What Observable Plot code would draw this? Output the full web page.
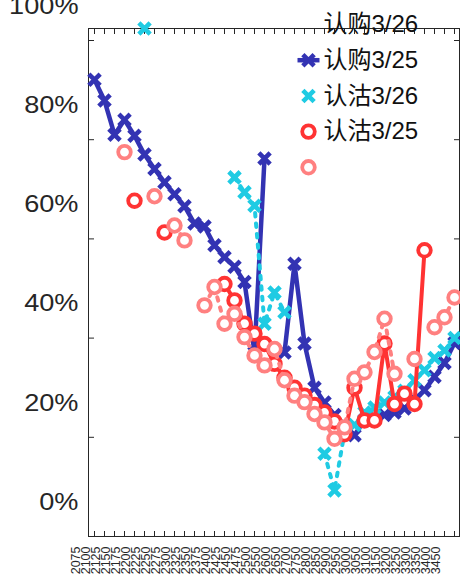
<!DOCTYPE html>
<html><head><meta charset="utf-8">
<script src="https://cdn.jsdelivr.net/npm/d3@7"></script>
<script src="https://cdn.jsdelivr.net/npm/@observablehq/plot@0.6"></script>
<style>html,body{margin:0;padding:0;background:#fff;} #chart svg{display:block;}</style>
</head><body><div id="chart"></div>
<script>
// Strike prices (x categories)
const strikes = ["2075","2100","2125","2150","2175","2200","2225","2250","2275","2300","2325","2350","2375","2400","2425","2450","2475","2500",
  "2550","2600","2650","2700","2750","2800","2850","2900","2950","3000","3050","3100","3150","3200","3250","3300","3350","3400","3450"];
// 认购3/25 (blue)
const call325 = [0.921,0.879,0.810,0.840,0.808,0.770,0.741,0.714,0.690,0.666,0.631,0.625,0.587,0.563,0.544,0.513,0.371,0.762,null,0.371,
  0.550,0.389,0.300,0.270,0.245,0.225,0.204,0.235,0.240,0.245,0.250,0.258,0.275,0.295,0.322,0.350,0.390];
// 认沽3/26 (cyan)
const put326 = [null,null,null,null,null,1.024,null,null,null,null,null,null,null,null,0.724,0.694,0.667,0.429,0.492,0.452,
  null,null,null,0.167,0.093,0.210,0.225,0.250,0.260,0.270,0.281,0.294,0.315,0.335,0.360,0.375,0.400];
// 认沽3/25 (red)
const put325 = [null,null,null,null,0.677,null,null,0.613,null,null,null,null,null,0.509,0.476,0.429,0.409,0.388,0.348,0.320,
  0.300,0.284,0.265,0.250,0.232,0.206,0.300,0.234,0.234,0.389,0.267,0.288,0.267,0.577,null,null,null];
// unlabelled series (light red)
const put325b = [null,null,null,0.775,null,null,0.686,null,0.627,0.597,null,0.466,0.503,0.429,0.449,0.402,0.365,0.345,0.378,0.315,
  0.284,0.271,0.247,0.230,0.197,0.220,0.318,0.331,0.372,0.439,0.328,null,0.358,null,0.422,0.442,0.482];
const yTicks = [0,0.2,0.4,0.6,0.8,1.0];
const legendLabels = ["认购3/26","认购3/25","认沽3/26","认沽3/25",""];

const BLUE="#3333b3", CYAN="#1fcbe3", RED="#ff3333", PINK="#ff8080", INK="#262626";
const rows = arr => strikes.map((s,i) => ({strike:s, v:arr[i]}));
const valid = arr => rows(arr).filter(d => d.v != null);
const xy = {x:"strike", y:"v"};
const crossDots = (arr,c) => Plot.dot(valid(arr), {...xy, symbol:"times", r:5.2, stroke:c, strokeWidth:4.6});
const ringDots = (arr,c) => Plot.dot(valid(arr), {...xy, r:6.3, stroke:c, strokeWidth:3.8, fill:"white"});
const hbar = {draw(ctx){ ctx.moveTo(-11,0); ctx.lineTo(11,0); }};

const legendSym = [
  null,
  [{symbol:hbar, stroke:BLUE, strokeWidth:4.5, r:5},{symbol:"times", stroke:BLUE, strokeWidth:4.6, r:5.2}],
  [{symbol:"times", stroke:CYAN, strokeWidth:4.6, r:5.2}],
  [{symbol:"circle", stroke:RED, strokeWidth:3.8, r:6.3, fill:"white"}],
  [{symbol:"circle", stroke:PINK, strokeWidth:3.8, r:6.3, fill:"white"}]
];
const legendMarks = [];
legendLabels.forEach((lab,k) => {
  const dy = -4 + 35.7*k;
  (legendSym[k]||[]).forEach(s => legendMarks.push(Plot.dot([0], {frameAnchor:"top-left", dx:220, dy, ...s})));
  if (lab) legendMarks.push(Plot.text([lab], {text:d=>d, frameAnchor:"top-left", dx:235, dy, textAnchor:"start",
    lineAnchor:"middle", fontSize:24, fill:"#111", ariaLabel:"legend"}));
});

const chart = Plot.plot({
  width:460, height:578, marginLeft:88, marginRight:1, marginTop:28, marginBottom:42,
  style:{fontFamily:"'Liberation Sans', Arial, 'Noto Sans CJK SC', sans-serif", background:"white", overflow:"visible"},
  x:{type:"point", domain:strikes, padding:0, label:null},
  y:{domain:[0,1.0242], label:null},
  marks:[
    Plot.axisY({anchor:"left", ticks:yTicks, tickSize:0, tickPadding:10, dy:-34, fontSize:23, fill:INK,
      tickFormat:d=>Math.round(d*100)+"%", label:null}),
    Plot.axisY({anchor:"left", ticks:yTicks, tickSize:6, dx:6, fill:"none", stroke:INK, label:null}),
    Plot.axisY({anchor:"right", ticks:yTicks, tickSize:6, dx:-6, fill:"none", stroke:INK, label:null}),
    Plot.axisX({anchor:"bottom", tickSize:5, dy:-5, fill:"none", stroke:INK, label:null}),
    Plot.axisX({anchor:"top", tickSize:5, dy:5, fill:"none", stroke:INK, label:null}),
    Plot.axisX({anchor:"bottom", tickSize:0, tickPadding:10, tickRotate:-90, dx:-18.5, fontSize:12.5, fill:INK, label:null}),
    Plot.frame({stroke:INK}),
    Plot.line(rows(call325), {...xy, stroke:BLUE, strokeWidth:4.5}),
    crossDots(call325, BLUE),
    Plot.line(rows(put326), {...xy, stroke:CYAN, strokeWidth:4, strokeDasharray:"3.5,7"}),
    crossDots(put326, CYAN),
    Plot.line(rows(put325), {...xy, stroke:RED, strokeWidth:4}),
    ringDots(put325, RED),
    Plot.line(rows(put325b), {...xy, stroke:PINK, strokeWidth:4, strokeDasharray:"3.5,7"}),
    ringDots(put325b, PINK),
    ...legendMarks
  ]
});
document.getElementById("chart").append(chart);
const stretch = 1.18;
chart.querySelectorAll('g[aria-label="y-axis tick label"] text, g[aria-label="legend"] text').forEach(t => {
  const L = t.getComputedTextLength();
  if (L > 0) { t.setAttribute("textLength", L*stretch); t.setAttribute("lengthAdjust","spacingAndGlyphs"); }
});
</script></body></html>
